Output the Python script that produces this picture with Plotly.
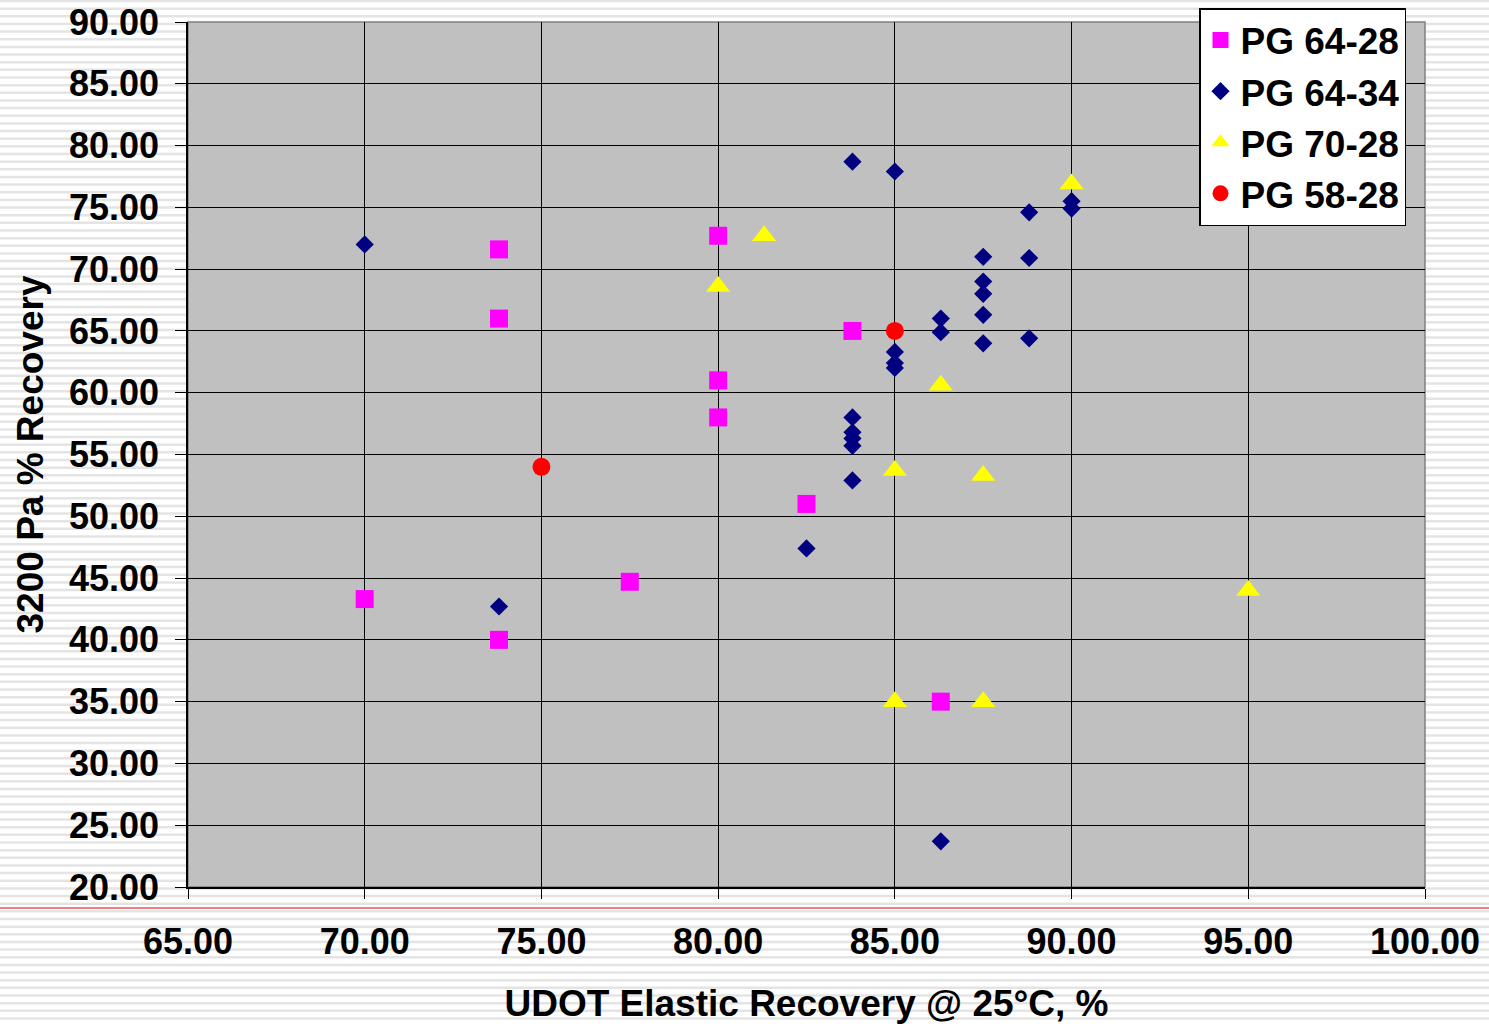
import plotly.graph_objects as go

# ---- data ----
pg6428_x = [70.0, 73.8, 73.8, 73.8, 77.5, 80.0, 80.0, 80.0, 82.5, 83.8, 86.3]
pg6428_y = [43.3, 71.6, 66.0, 40.0, 44.7, 72.7, 61.0, 58.0, 51.0, 65.0, 35.0]

pg6434_x = [70.0, 73.8, 82.5, 83.8, 83.8, 83.8, 83.8, 83.8, 83.8, 85.0, 85.0, 85.0, 85.0,
            86.3, 86.3, 86.3, 87.5, 87.5, 87.5, 87.5, 87.5, 88.8, 88.8, 88.8, 90.0, 90.0]
pg6434_y = [72.0, 42.7, 47.4, 78.7, 58.0, 56.8, 56.3, 55.7, 52.9, 77.9, 63.3, 62.4, 62.0,
            66.0, 64.9, 23.7, 71.0, 69.0, 68.0, 66.3, 64.0, 74.6, 70.9, 64.4, 75.5, 74.9]

pg7028_x = [80.0, 81.3, 85.0, 85.0, 86.3, 87.5, 87.5, 90.0, 95.0]
pg7028_y = [68.6, 72.7, 53.7, 35.0, 60.6, 53.3, 35.0, 76.9, 44.0]

pg5828_x = [75.0, 85.0]
pg5828_y = [54.0, 65.0]

series_names = ["PG 64-28", "PG 64-34", "PG 70-28", "PG 58-28"]
x_ticks = [65, 70, 75, 80, 85, 90, 95, 100]
y_ticks = [20, 25, 30, 35, 40, 45, 50, 55, 60, 65, 70, 75, 80, 85, 90]

x_title = "UDOT Elastic Recovery @ 25°C, %"
y_title = "3200 Pa % Recovery"

# ---- figure ----
W, H = 1489, 1024
ML, MR, MT, MB = 188, 64, 22, 137
PW, PH = W - ML - MR, H - MT - MB

FONT = "Arial, Liberation Sans, sans-serif"

fig = go.Figure()
fig.add_trace(go.Scatter(x=pg6428_x, y=pg6428_y, mode="markers", name=series_names[0],
                         marker=dict(symbol="square", size=18, color="#FF00FF", line=dict(width=0))))
fig.add_trace(go.Scatter(x=pg6434_x, y=pg6434_y, mode="markers", name=series_names[1],
                         marker=dict(symbol="diamond", size=14, color="#000080", line=dict(width=0))))
fig.add_trace(go.Scatter(x=pg7028_x, y=pg7028_y, mode="markers", name=series_names[2],
                         marker=dict(symbol="triangle-up", size=21, color="#FFFF00", line=dict(width=0))))
fig.add_trace(go.Scatter(x=pg5828_x, y=pg5828_y, mode="markers", name=series_names[3],
                         marker=dict(symbol="circle", size=18, color="#FF0000", line=dict(width=0))))


def px_to_paper_y(py):
    return (H - MB - py) / PH


shapes = []
# striped slide background
k = 0
while True:
    py = 1 + 7.65 * k
    if py > H:
        break
    shapes.append(dict(type="line", xref="paper", yref="paper",
                       x0=-ML / PW, x1=(W - ML) / PW,
                       y0=px_to_paper_y(py), y1=px_to_paper_y(py),
                       line=dict(color="#e4e4e4", width=2.5), layer="below"))
    k += 1
# plot area background
shapes.append(dict(type="rect", xref="paper", yref="paper", x0=0, x1=1, y0=0, y1=1,
                   fillcolor="#C0C0C0", line=dict(color="#808080", width=1.5), layer="below"))
# red horizontal slide line
shapes.append(dict(type="line", xref="paper", yref="paper",
                   x0=-ML / PW, x1=(W - ML) / PW,
                   y0=px_to_paper_y(908), y1=px_to_paper_y(908),
                   line=dict(color="#E00000", width=1.2), layer="above"))

fig.update_layout(
    width=W, height=H,
    margin=dict(l=ML, r=MR, t=MT, b=MB, autoexpand=False),
    paper_bgcolor="white",
    plot_bgcolor="#C0C0C0",
    font=dict(family=FONT, size=36, color="black"),
    shapes=shapes,
    showlegend=True,
    legend=dict(x=(1199 - ML) / PW, y=px_to_paper_y(8), xanchor="left", yanchor="top",
                bgcolor="white", bordercolor="black", borderwidth=1.5,
                font=dict(family=FONT, size=37, color="black", weight="bold"),
                itemsizing="trace"),
    xaxis=dict(range=[65, 100], tickvals=x_ticks, ticktext=[f"{v:.2f}" for v in x_ticks],
               showgrid=True, gridcolor="black", gridwidth=1,
               showline=True, linecolor="black", linewidth=1.5,
               ticks="outside", ticklen=10, tickcolor="black", tickwidth=1,
               ticklabelstandoff=12, zeroline=False,
               tickfont=dict(family=FONT, size=36, color="black", weight="bold"),
               title=dict(text=x_title, standoff=37,
                          font=dict(family=FONT, size=37, color="black", weight="bold"))),
    yaxis=dict(range=[20, 90], tickvals=y_ticks, ticktext=[f"{v:.2f}" for v in y_ticks],
               showgrid=True, gridcolor="black", gridwidth=1,
               showline=True, linecolor="black", linewidth=1.5,
               ticks="outside", ticklen=11, tickcolor="black", tickwidth=1,
               ticklabelstandoff=9, zeroline=False,
               tickfont=dict(family=FONT, size=36, color="black", weight="bold"),
               title=dict(text=y_title, standoff=14,
                          font=dict(family=FONT, size=37, color="black", weight="bold"))),
)

fig.write_html("out.html")
